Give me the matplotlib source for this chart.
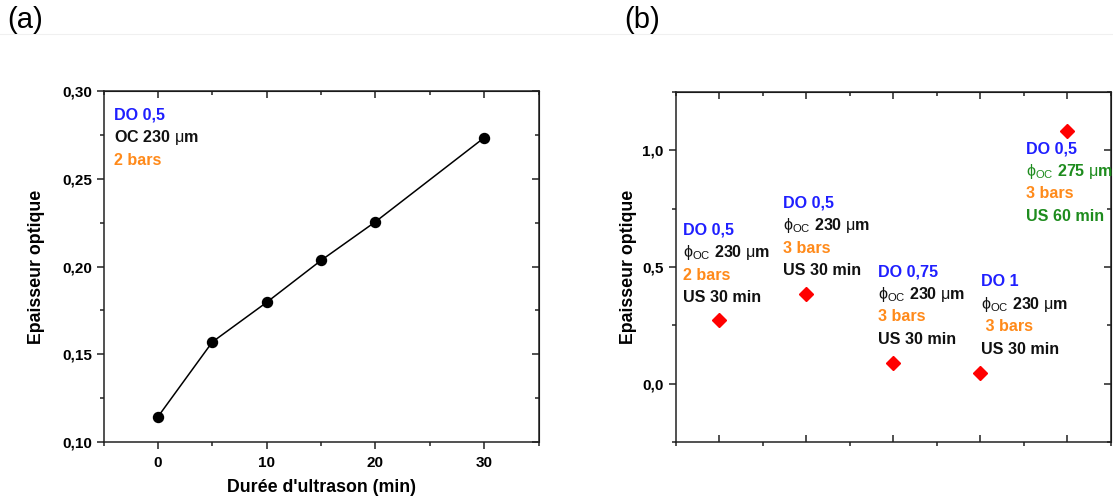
import matplotlib
matplotlib.use("Agg")
import matplotlib.pyplot as plt
from matplotlib.ticker import MultipleLocator, FuncFormatter
from matplotlib.lines import Line2D

plt.rcParams['font.family'] = ['Liberation Sans', 'DejaVu Sans']
plt.rcParams['mathtext.fontset'] = 'custom'
plt.rcParams['mathtext.rm'] = 'Liberation Sans'
plt.rcParams['mathtext.it'] = 'Liberation Sans'
plt.rcParams['mathtext.bf'] = 'Liberation Sans:bold'
plt.rcParams['mathtext.fallback'] = 'stixsans'

# ---- data panel (a)
dur_min = [0, 5, 10, 15, 20, 30]
ep_a = [0.1144, 0.157, 0.1796, 0.2035, 0.2255, 0.2734]

# ---- data panel (b)
cond_idx = [1, 2, 3, 4, 5]
ep_b = [0.273, 0.383, 0.090, 0.047, 1.083]

BLUE = '#1f1fff'
ORANGE = '#ff8a1a'
GREEN = '#1e8c1e'
BLACK = '#111111'

PHI = r"$\mathrm{\phi}_{\mathrm{OC}}$"
MU = r"$\mathrm{\mu}$m"

labels_a = [("DO 0,5", BLUE), ("OC 230 " + MU, BLACK), ("2 bars", ORANGE)]
labels_b = [
    [("DO 0,5", BLUE), (PHI + " 230 " + MU, BLACK), ("2 bars", ORANGE), ("US 30 min", BLACK)],
    [("DO 0,5", BLUE), (PHI + " 230 " + MU, BLACK), ("3 bars", ORANGE), ("US 30 min", BLACK)],
    [("DO 0,75", BLUE), (PHI + " 230 " + MU, BLACK), ("3 bars", ORANGE), ("US 30 min", BLACK)],
    [("DO 1", BLUE), (PHI + " 230 " + MU, BLACK), (" 3 bars", ORANGE), ("US 30 min", BLACK)],
    [("DO 0,5", BLUE), (PHI + " 275 " + MU, GREEN), ("3 bars", ORANGE), ("US 60 min", GREEN)],
]
# anchor (x, y) of first line of each text block, in data coords
anchors_b = [(0.583, 0.657), (1.731, 0.773), (2.830, 0.480), (4.013, 0.437), (4.521, 1.007)]
anchor_a = (-4.08, 0.2863)

LINE_SP = 16.2  # points between text lines

fig = plt.figure(figsize=(11.13, 4.98), dpi=100)
fig.add_artist(Line2D([0, 1], [1 - 34 / 498] * 2, color='#f0f0f0', lw=0.8))
fig.text(7 / 1113, 1 - 20 / 498, "(a)", fontsize=21, va='center', ha='left')
fig.text(624 / 1113, 1 - 20 / 498, "(b)", fontsize=21, va='center', ha='left')


def fmt(nd):
    return FuncFormatter(lambda v, p: f"{v:.{nd}f}".replace('.', ','))


def style(ax):
    for s in ax.spines.values():
        s.set_linewidth(1.1)
        s.set_color('#222222')
    ax.tick_params(which='major', length=5, width=1.1, labelsize=11, color='#222222')
    ax.tick_params(which='minor', length=3, width=1.1, color='#222222')
    for lab in ax.get_xticklabels() + ax.get_yticklabels():
        lab.set_fontweight('bold')


def block(ax, anchor, lines, fs=11.6):
    for i, (txt, col) in enumerate(lines):
        ax.annotate(txt, xy=anchor, xytext=(0, -i * LINE_SP), textcoords='offset points',
                    color=col, fontsize=fs, fontweight='bold', ha='left', va='center')


def mirror(ax, xmaj, xmin, ymaj, ymin):
    sx = ax.secondary_xaxis('top')
    sx.xaxis.set_major_locator(MultipleLocator(xmaj))
    sx.xaxis.set_minor_locator(MultipleLocator(xmin))
    sx.tick_params(which='both', direction='in', labeltop=False, color='#222222')
    sx.tick_params(which='major', length=5, width=1.1)
    sx.tick_params(which='minor', length=3, width=1.1)
    sy = ax.secondary_yaxis('right')
    sy.yaxis.set_major_locator(MultipleLocator(ymaj))
    sy.yaxis.set_minor_locator(MultipleLocator(ymin))
    sy.tick_params(which='both', direction='in', labelright=False, color='#222222')
    sy.tick_params(which='major', length=5, width=1.1)
    sy.tick_params(which='minor', length=3, width=1.1)


# ---------------- panel (a)
axa = fig.add_axes([103.6 / 1113, 1 - 442 / 498, 435 / 1113, 351 / 498])
axa.plot(dur_min, ep_a, '-o', color='black', lw=1.1, ms=7.2)
axa.set_xlim(-5, 35)
axa.set_ylim(0.10, 0.30)
axa.xaxis.set_major_locator(MultipleLocator(10))
axa.xaxis.set_minor_locator(MultipleLocator(5))
axa.yaxis.set_major_locator(MultipleLocator(0.05))
axa.yaxis.set_minor_locator(MultipleLocator(0.025))
axa.yaxis.set_major_formatter(fmt(2))
axa.tick_params(which='both', direction='out')
axa.tick_params(axis='x', pad=5)
style(axa)
axa.set_xlabel("Durée d'ultrason (min)", fontsize=12.8, fontweight='bold')
axa.set_ylabel("Epaisseur optique", fontsize=12.8, fontweight='bold')
axa.xaxis.set_label_coords(0.5, -0.105)
axa.yaxis.set_label_coords(-0.135, 0.5)
mirror(axa, 10, 5, 0.05, 0.025)
block(axa, anchor_a, labels_a)

# ---------------- panel (b)
axb = fig.add_axes([675.5 / 1113, 1 - 442 / 498, 435.5 / 1113, 350 / 498])
axb.plot(cond_idx, ep_b, 'D', color='#ff0000', ms=7.0, mec='#ff0000', ls='none')
axb.set_xlim(0.5, 5.5)
axb.set_ylim(-0.25, 1.25)
axb.xaxis.set_major_locator(MultipleLocator(1))
axb.xaxis.set_minor_locator(MultipleLocator(0.5))
axb.yaxis.set_major_locator(MultipleLocator(0.5))
axb.yaxis.set_minor_locator(MultipleLocator(0.25))
axb.yaxis.set_major_formatter(fmt(1))
axb.tick_params(axis='y', which='both', direction='out')
axb.tick_params(axis='x', which='major', direction='in', labelbottom=False)
axb.tick_params(axis='x', which='minor', direction='out')
style(axb)
axb.set_ylabel("Epaisseur optique", fontsize=12.8, fontweight='bold')
axb.yaxis.set_label_coords(-0.088, 0.5)
mirror(axb, 1, 0.5, 0.5, 0.25)
for anc, lines in zip(anchors_b, labels_b):
    block(axb, anc, lines)

fig.savefig("out.png", dpi=100)
